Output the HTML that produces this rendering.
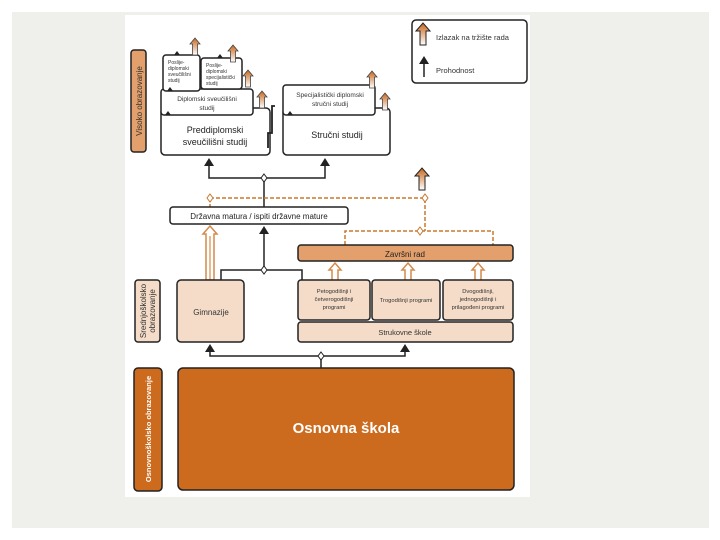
<!DOCTYPE html>
<html><head><meta charset="utf-8"><style>
body{margin:0;background:#fff;}
svg{display:block;font-family:"Liberation Sans",sans-serif;}
</style></head><body>
<svg width="720" height="540" viewBox="0 0 720 540" xmlns="http://www.w3.org/2000/svg">
<defs>
<linearGradient id="og" x1="0" y1="0" x2="0" y2="1"><stop offset="0" stop-color="#c8651a"/><stop offset="1" stop-color="#fff"/></linearGradient>
<g id="oa"><path d="M-7,0 L0,-8 L7,0 L3,0 L3,14 L-3,14 L-3,0 Z" fill="url(#og)" stroke="#222" stroke-width="1"/></g>
<g id="oas"><path d="M-5,0 L0,-6 L5,0 L2.5,0 L2.5,11 L-2.5,11 L-2.5,0 Z" fill="url(#og)" stroke="#444" stroke-width="0.8"/></g>
<g id="ua"><path d="M-6,0 L0,-7 L6,0 L3,0 L3,12 L-3,12 L-3,0 Z" fill="#fff" stroke="#d48a4a" stroke-width="1.5"/></g>
</defs>
<rect x="0" y="0" width="720" height="540" fill="#fff"/>
<rect x="12" y="12" width="697" height="516" fill="#efefeb"/>
<rect x="125" y="15" width="405" height="482" fill="#fff"/>

<g stroke="#222" stroke-width="1.5">
<rect x="131" y="50" width="15" height="102" rx="3" fill="#e3a06c"/>
<rect x="135" y="280" width="25" height="62" rx="3" fill="#f5dcc8"/>
<rect x="134" y="368" width="28" height="123" rx="4" fill="#cc6b1e"/>
<rect x="178" y="368" width="336" height="122" rx="5" fill="#cc6b1e"/>
</g>
<text transform="translate(142,101) rotate(-90)" font-size="8" text-anchor="middle" fill="#333">Visoko obrazovanje</text>
<text transform="translate(146,311) rotate(-90)" font-size="8" text-anchor="middle" fill="#333">Srednjoškolsko</text>
<text transform="translate(155,311) rotate(-90)" font-size="8" text-anchor="middle" fill="#333">obrazovanje</text>
<text transform="translate(151,429) rotate(-90)" font-size="7.5" font-weight="bold" text-anchor="middle" fill="#fff">Osnovnoškolsko obrazovanje</text>
<text x="346" y="433" font-size="15" font-weight="bold" text-anchor="middle" fill="#fff">Osnovna škola</text>

<!-- upper boxes -->
<g stroke="#222" stroke-width="1.5" fill="#fff">
<rect x="161" y="108" width="109" height="47" rx="4"/>
<rect x="161" y="89" width="92" height="26" rx="3"/>
<rect x="163" y="55" width="37" height="36" rx="3"/>
<rect x="201" y="58" width="41" height="31" rx="3"/>
<rect x="283" y="108" width="107" height="47" rx="4"/>
<rect x="283" y="85" width="92" height="30" rx="3"/>
</g>
<path d="M268,148 L268,133 L272,133 L272,106 L275,106" fill="none" stroke="#222" stroke-width="1.8"/>
<g font-size="5" fill="#333">
<text x="168" y="64">Poslije-</text><text x="168" y="70">diplomski</text><text x="168" y="76">sveučilišni</text><text x="168" y="82">studij</text>
<text x="206" y="67">Poslije-</text><text x="206" y="73">diplomski</text><text x="206" y="79">specijalistički</text><text x="206" y="85">studij</text>
</g>
<text x="207" y="101" font-size="6.5" text-anchor="middle" fill="#333">Diplomski sveučilišni</text>
<text x="207" y="110" font-size="6.5" text-anchor="middle" fill="#333">studij</text>
<text x="215" y="133" font-size="9" text-anchor="middle" fill="#222">Preddiplomski</text>
<text x="215" y="145" font-size="9" text-anchor="middle" fill="#222">sveučilišni studij</text>
<text x="330" y="97" font-size="6.5" text-anchor="middle" fill="#333">Specijalistički diplomski</text>
<text x="330" y="106" font-size="6.5" text-anchor="middle" fill="#333">stručni studij</text>
<text x="337" y="138" font-size="9" text-anchor="middle" fill="#222">Stručni studij</text>
<g fill="#222">
<path d="M167,91 l3,-4 l3,4z"/><path d="M168,91h4v-1h-4z"/>
<path d="M174,55 l3,-4 l3,4z"/><path d="M217,58 l3,-4 l3,4z"/>
<path d="M165,115 l3,-4 l3,4z"/><path d="M287,115 l3,-4 l3,4z"/>
</g>
<use href="#oas" x="195" y="44"/><use href="#oas" x="233" y="51"/><use href="#oas" x="248" y="76"/><use href="#oas" x="262" y="97"/>
<use href="#oas" x="372" y="77"/><use href="#oas" x="385" y="99"/>

<!-- black connectors top -->
<g stroke="#222" stroke-width="1.5" fill="none">
<path d="M209,163 V178 H325 V163"/>
<path d="M264,178 V207"/>
</g>
<path d="M204,166 L209,158 L214,166Z M320,166 L325,158 L330,166Z" fill="#222"/>
<!-- orange dashed -->
<g stroke="#c8782f" stroke-width="1.5" fill="none" stroke-dasharray="4,2">
<path d="M210,198 H425 V231"/>
<path d="M210,198 V207"/>
<path d="M345,245 V231 H493 V245"/>
</g>
<g fill="#fff" stroke="#222" stroke-width="1">
<path d="M264,174 l3,4 l-3,4 l-3,-4z"/>
</g>
<g fill="#fff" stroke="#c8782f" stroke-width="1">
<path d="M210,194 l3,4 l-3,4 l-3,-4z"/><path d="M425,194 l3,4 l-3,4 l-3,-4z"/><path d="M420,227 l3,4 l-3,4 l-3,-4z"/>
</g>
<use href="#oa" x="422" y="176"/>

<rect x="170" y="207" width="178" height="17" rx="3" fill="#fff" stroke="#222" stroke-width="1.5"/>
<text x="259" y="219" font-size="8" text-anchor="middle" fill="#222">Državna matura / ispiti državne mature</text>

<!-- gimnazija double arrow -->
<g stroke="#d48a4a" stroke-width="1.5" fill="#fff">
<path d="M203,234 L210,226 L217,234 L214,234 L214,280 L206,280 L206,234 Z"/>
</g>
<line x1="210" y1="236" x2="210" y2="280" stroke="#d48a4a" stroke-width="1.2"/>
<g stroke="#222" stroke-width="1.5" fill="none">
<path d="M221,280 V270 H302 V280"/>
<path d="M264,270 V232"/>
</g>
<path d="M259,234 L264,226 L269,234Z" fill="#222"/>
<path d="M264,266 l3,4 l-3,4 l-3,-4z" fill="#fff" stroke="#222"/>

<rect x="298" y="245" width="215" height="16" rx="3" fill="#e3a06c" stroke="#222" stroke-width="1.5"/>
<text x="405" y="257" font-size="8" text-anchor="middle" fill="#222">Završni rad</text>
<use href="#ua" x="335" y="270"/><use href="#ua" x="408" y="270"/><use href="#ua" x="478" y="270"/>

<g stroke="#222" stroke-width="1.5" fill="#f5dcc8">
<rect x="177" y="280" width="67" height="62" rx="4"/>
<rect x="298" y="280" width="72" height="40" rx="3"/>
<rect x="372" y="280" width="68" height="40" rx="3"/>
<rect x="443" y="280" width="70" height="40" rx="3"/>
<rect x="298" y="322" width="215" height="20" rx="3"/>
</g>
<text x="211" y="315" font-size="8" text-anchor="middle" fill="#333">Gimnazije</text>
<g font-size="5.8" text-anchor="middle" fill="#333">
<text x="334" y="293">Petogodišnji i</text><text x="334" y="301">četverogodišnji</text><text x="334" y="309">programi</text>
<text x="406" y="302">Trogodišnji programi</text>
<text x="478" y="293">Dvogodišnji,</text><text x="478" y="301">jednogodišnji i</text><text x="478" y="309">prilagođeni programi</text>
</g>
<text x="405" y="335" font-size="7.5" text-anchor="middle" fill="#333">Strukovne škole</text>

<g stroke="#222" stroke-width="1.5" fill="none"><path d="M210,350 V356 H405 V350"/><path d="M321,356 V368"/></g>
<path d="M205,352 L210,344 L215,352Z M400,352 L405,344 L410,352Z" fill="#222"/>
<path d="M321,352 l3,4 l-3,4 l-3,-4z" fill="#fff" stroke="#222"/>

<!-- legend -->
<rect x="412" y="20" width="115" height="63" rx="4" fill="#fff" stroke="#222" stroke-width="1.5"/>
<use href="#oa" x="423" y="31"/>
<text x="436" y="40" font-size="7.5" fill="#333">Izlazak na tržište rada</text>
<path d="M424,77 V62" stroke="#222" stroke-width="1.5"/><path d="M419,64 L424,56 L429,64Z" fill="#222"/>
<text x="436" y="73" font-size="7.5" fill="#333">Prohodnost</text>
</svg>
</body></html>
